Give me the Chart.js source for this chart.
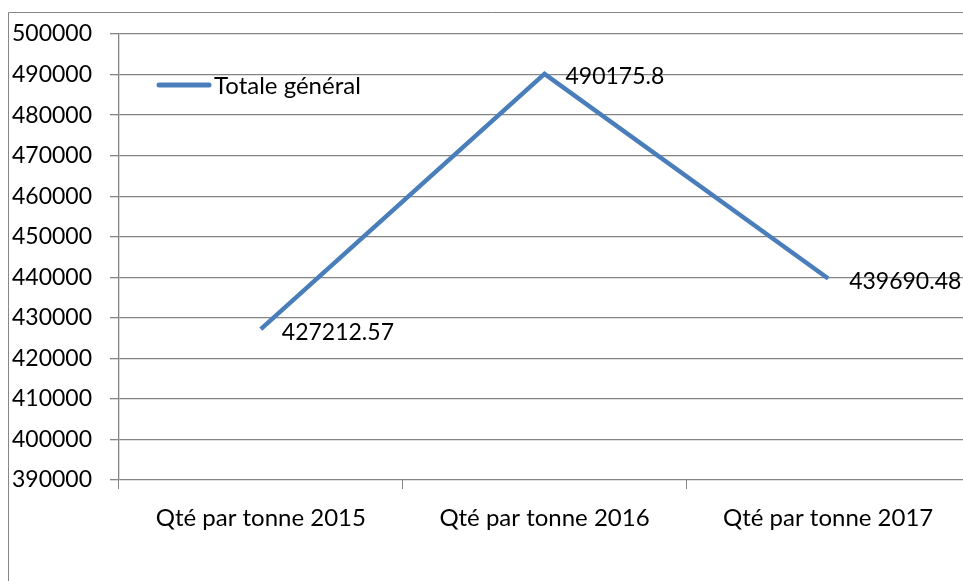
<!DOCTYPE html>
<html>
<head>
<meta charset="utf-8">
<script src="https://cdn.jsdelivr.net/npm/chart.js@4/dist/chart.umd.min.js"></script>
<style>
  html, body { margin: 0; padding: 0; background: #fff; overflow: hidden; }
  #wrap { position: absolute; left: 0; top: 0; }
</style>
</head>
<body>
<div id="wrap"><canvas id="myLineChart" width="975" height="600"></canvas></div>
<script>
// data
const categories = ['Qté par tonne 2015', 'Qté par tonne 2016', 'Qté par tonne 2017'];
const seriesName = 'Totale général';
const seriesValues = [427212.57, 490175.8, 439690.48];
const yMin = 390000, yMax = 500000, yStep = 10000;

const FONT = 'Lato, "Open Sans", sans-serif';
const FSIZE = 24;
const GRID = '#848484';
const LINE = '#4a7ebb';

Chart.defaults.font.family = FONT;
Chart.defaults.color = '#000';

// outer frame of the chart object (left and top edges visible in the crop)
const framePlugin = {
  id: 'frame',
  beforeDraw(chart) {
    const c = chart.ctx;
    c.save();
    c.strokeStyle = '#868686';
    c.lineWidth = 1;
    c.beginPath();
    c.moveTo(8.5, chart.height);
    c.lineTo(8.5, 12.5);
    c.lineTo(chart.width, 12.5);
    c.stroke();
    c.restore();
  }
};

// legend inside the plot area + value labels next to points
const labelsPlugin = {
  id: 'labels',
  afterDatasetsDraw(chart) {
    const c = chart.ctx;
    const ds = chart.data.datasets[0];
    c.save();
    // legend
    c.strokeStyle = LINE;
    c.lineWidth = 5;
    c.lineCap = 'round';
    c.beginPath();
    c.moveTo(159, 85);
    c.lineTo(209, 85);
    c.stroke();
    c.font = FSIZE + 'px ' + FONT;
    c.fillStyle = '#000';
    c.textBaseline = 'middle';
    c.textAlign = 'left';
    c.fillText(ds.label, 214, 86);
    // value labels
    c.font = '23px ' + FONT;
    chart.getDatasetMeta(0).data.forEach((pt, i) => {
      c.fillText(String(ds.data[i]), pt.x + 21, pt.y + 3);
    });
    c.restore();
  }
};

new Chart(document.getElementById('myLineChart').getContext('2d'), {
  type: 'line',
  data: {
    labels: categories,
    datasets: [{
      label: seriesName,
      data: seriesValues,
      borderColor: LINE,
      borderWidth: 4.5,
      pointRadius: 0,
      tension: 0,
      fill: false
    }]
  },
  options: {
    responsive: false,
    animation: false,
    layout: { padding: { left: 0, top: 34, right: 5, bottom: 0 } },
    plugins: { legend: { display: false }, tooltip: { enabled: false } },
    scales: {
      x: {
        offset: true,
        afterFit: s => { s.height = 120; },
        grid: { offset: true, drawOnChartArea: false, drawTicks: true, tickLength: 9, color: GRID, tickColor: GRID },
        border: { display: false },
        ticks: { font: { size: FSIZE, family: FONT }, padding: 15, color: '#000', maxRotation: 0 }
      },
      y: {
        min: yMin,
        max: yMax,
        afterFit: s => { s.width = 119; },
        grid: { color: GRID, tickLength: 9, tickColor: GRID, lineWidth: 1.3 },
        border: { display: true, color: GRID, width: 1.3 },
        ticks: { stepSize: yStep, font: { size: 23, family: FONT }, padding: 18, color: '#000',
                 callback: v => String(v) }
      }
    }
  },
  plugins: [framePlugin, labelsPlugin]
});
</script>
</body>
</html>
